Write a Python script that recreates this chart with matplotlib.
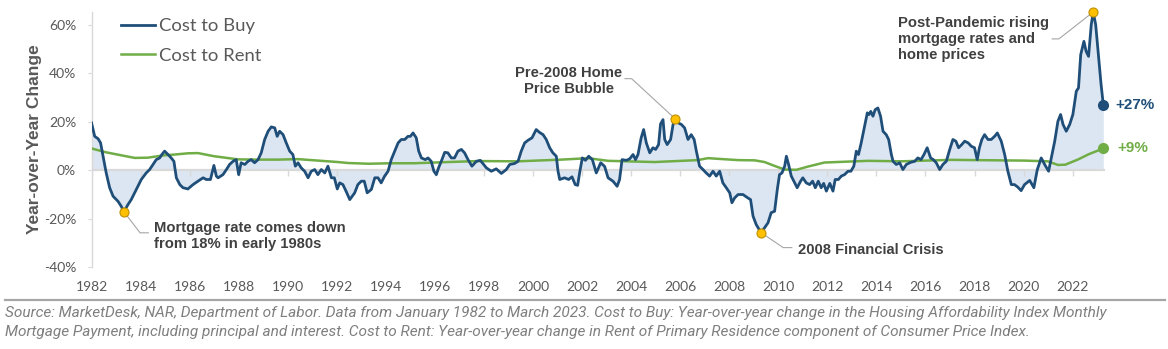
import numpy as np
import matplotlib
matplotlib.use("Agg")
import matplotlib.pyplot as plt

# ---------------- data ----------------
buy_years = [
    1982.00, 1982.13, 1982.27, 1982.37, 1982.47, 1982.60, 1982.74, 1982.88, 1983.08, 1983.21,
    1983.32, 1983.49, 1983.62, 1983.76, 1983.90, 1984.03, 1984.23, 1984.37, 1984.51, 1984.64,
    1984.78, 1984.87, 1984.98, 1985.12, 1985.25, 1985.36, 1985.46, 1985.60, 1985.73, 1985.93,
    1986.14, 1986.34, 1986.55, 1986.68, 1986.85, 1986.99, 1987.09, 1987.16, 1987.36, 1987.50,
    1987.63, 1987.77, 1987.90, 1988.00, 1988.10, 1988.25, 1988.38, 1988.51, 1988.65, 1988.79,
    1988.92, 1989.06, 1989.20, 1989.33, 1989.47, 1989.57, 1989.67, 1989.81, 1989.94, 1990.08,
    1990.21, 1990.31, 1990.42, 1990.55, 1990.69, 1990.83, 1990.96, 1991.10, 1991.23, 1991.37,
    1991.51, 1991.64, 1991.78, 1991.90, 1992.02, 1992.12, 1992.25, 1992.39, 1992.53, 1992.73,
    1992.86, 1993.00, 1993.12, 1993.24, 1993.41, 1993.55, 1993.68, 1993.81, 1993.95, 1994.09,
    1994.22, 1994.36, 1994.50, 1994.63, 1994.77, 1994.90, 1995.00, 1995.11, 1995.24, 1995.34,
    1995.45, 1995.61, 1995.72, 1995.85, 1995.96, 1996.06, 1996.15, 1996.26, 1996.40, 1996.53,
    1996.67, 1996.80, 1996.94, 1997.08, 1997.21, 1997.35, 1997.51, 1997.69, 1997.85, 1998.10,
    1998.30, 1998.50, 1998.71, 1998.91, 1999.05, 1999.25, 1999.39, 1999.52, 1999.66, 1999.80,
    1999.96, 2000.13, 2000.27, 2000.41, 2000.54, 2000.68, 2000.81, 2000.95, 2001.02, 2001.09,
    2001.29, 2001.45, 2001.59, 2001.72, 2001.82, 2001.90, 2002.01, 2002.14, 2002.27, 2002.42,
    2002.58, 2002.76, 2002.92, 2003.06, 2003.26, 2003.43, 2003.53, 2003.63, 2003.80, 2003.94,
    2004.08, 2004.18, 2004.28, 2004.41, 2004.51, 2004.62, 2004.76, 2004.89, 2005.00, 2005.12,
    2005.20, 2005.30, 2005.37, 2005.47, 2005.61, 2005.71, 2005.80, 2005.91, 2006.05, 2006.18,
    2006.32, 2006.45, 2006.57, 2006.66, 2006.79, 2006.93, 2007.06, 2007.20, 2007.34, 2007.47,
    2007.61, 2007.74, 2007.88, 2008.02, 2008.11, 2008.22, 2008.36, 2008.56, 2008.76, 2008.87,
    2008.97, 2009.10, 2009.20, 2009.31, 2009.44, 2009.58, 2009.71, 2009.85, 2009.96, 2010.05,
    2010.15, 2010.26, 2010.33, 2010.42, 2010.53, 2010.67, 2010.77, 2010.91, 2011.00, 2011.14,
    2011.28, 2011.40, 2011.51, 2011.63, 2011.75, 2011.85, 2011.96, 2012.10, 2012.23, 2012.32,
    2012.45, 2012.57, 2012.70, 2012.84, 2012.96, 2013.08, 2013.18, 2013.27, 2013.38, 2013.52,
    2013.63, 2013.70, 2013.77, 2013.86, 2013.95, 2014.06, 2014.17, 2014.27, 2014.40, 2014.50,
    2014.61, 2014.68, 2014.81, 2014.95, 2015.08, 2015.22, 2015.40, 2015.56, 2015.69, 2015.82,
    2015.94, 2016.07, 2016.21, 2016.32, 2016.44, 2016.58, 2016.71, 2016.85, 2016.99, 2017.12,
    2017.24, 2017.35, 2017.48, 2017.60, 2017.74, 2017.87, 2018.00, 2018.11, 2018.20, 2018.30,
    2018.41, 2018.55, 2018.68, 2018.82, 2018.93, 2019.09, 2019.23, 2019.36, 2019.50, 2019.63,
    2019.77, 2019.90, 2020.04, 2020.25, 2020.42, 2020.56, 2020.72, 2020.86, 2021.02, 2021.13,
    2021.27, 2021.40, 2021.51, 2021.61, 2021.74, 2021.88, 2022.01, 2022.15, 2022.24, 2022.33,
    2022.46, 2022.55, 2022.65, 2022.76, 2022.84, 2022.94, 2023.06, 2023.16, 2023.25,
]
buy_values = [
    19.5, 13.9, 12.9, 11.2, 5.7, -1.2, -7.3, -10.8, -12.9, -14.9,
    -17.2, -14.2, -12.2, -9.4, -6.7, -3.9, -1.2, 0.2, 2.3, 4.3,
    5.0, 6.4, 7.8, 6.4, 5.0, 3.6, -3.2, -6.0, -7.3, -7.8,
    -6.0, -4.6, -3.2, -3.9, -3.9, 1.9, -2.5, -3.2, -1.9, 0.2,
    2.3, 3.6, 4.3, -1.9, 3.0, 2.3, 3.6, 4.3, 3.0, 4.3,
    7.1, 12.6, 16.0, 17.8, 17.4, 13.9, 16.0, 14.6, 11.2, 7.8,
    6.4, 1.6, 3.0, 0.9, -0.5, -3.2, -0.5, 0.2, -1.9, 0.2,
    -1.2, 1.6, -3.2, -3.2, -7.8, -5.3, -6.0, -9.0, -12.2, -9.4,
    -6.0, -4.6, -4.6, -9.4, -8.0, -3.2, -3.2, -5.3, -2.5, -0.5,
    4.3, 7.8, 11.2, 12.6, 12.6, 13.9, 13.9, 15.3, 13.3, 7.8,
    5.0, 4.3, 5.0, 3.6, -0.5, -1.9, 0.9, 3.6, 7.3, 7.1,
    5.0, 5.0, 7.8, 8.5, 7.1, 4.3, 1.6, 3.6, 4.0, 0.9,
    -0.5, 0.5, -1.4, 0.2, 2.3, 2.7, 3.6, 7.8, 11.2, 12.3,
    13.3, 16.7, 15.5, 14.6, 12.6, 9.2, 7.1, 5.7, -0.5, -3.9,
    -3.2, -3.9, -2.8, -6.0, -6.3, -1.2, 5.0, 4.0, 5.7, 4.3,
    -1.2, 3.0, 1.5, -3.2, -4.6, -6.7, -3.9, 4.3, 4.0, 4.6,
    6.4, 4.3, 6.4, 13.3, 16.7, 11.2, 7.1, 9.2, 8.5, 10.5,
    19.0, 20.8, 12.6, 10.5, 12.6, 18.8, 21.1, 19.5, 18.8, 17.4,
    12.6, 14.6, 12.6, 7.8, 1.6, 0.2, -1.2, -2.5, -0.5, -2.5,
    -0.5, -5.3, -7.3, -9.4, -13.5, -11.5, -10.1, -10.1, -11.5, -12.2,
    -19.0, -22.5, -24.2, -25.9, -23.8, -21.8, -17.6, -17.0, -8.0, -1.9,
    -1.2, 1.6, 5.7, 2.3, -2.5, -5.3, -7.3, -4.6, -3.2, -5.3,
    -6.0, -4.6, -7.3, -4.6, -7.3, -5.5, -8.7, -5.5, -8.7, -3.9,
    -3.9, -2.5, -1.9, -0.5, -0.5, 1.6, 7.8, 6.4, 11.2, 18.1,
    23.6, 22.9, 24.2, 22.2, 24.9, 25.6, 22.2, 16.0, 14.6, 12.6,
    6.4, 3.6, 2.3, 3.0, 0.2, 2.3, 3.2, 3.6, 5.0, 4.3,
    6.4, 9.2, 5.0, 4.3, 3.0, 0.2, 2.3, 3.6, 8.5, 12.6,
    11.9, 9.2, 10.5, 11.9, 11.2, 9.8, 9.2, 4.3, 9.2, 12.6,
    14.6, 12.6, 12.6, 13.9, 15.3, 11.9, 6.4, -0.5, -6.0, -6.0,
    -7.1, -8.5, -6.0, -4.3, -7.3, 0.2, 5.0, 2.3, -0.5, 5.0,
    11.9, 20.1, 22.9, 18.8, 16.0, 18.8, 22.9, 32.5, 33.9, 47.6,
    53.1, 49.0, 46.9, 60.0, 65.2, 60.0, 46.3, 35.3, 27.0,
]

rent_years = [1982.0, 1982.6, 1983.2, 1983.76, 1984.3, 1984.9, 1985.4, 1985.93, 1986.34, 1987.0,
              1987.97, 1988.79, 1989.6, 1990.42, 1991.23, 1992.05, 1992.46, 1993.3, 1994.22,
              1995.17, 1996.53, 1997.76, 1999.39, 2001.16, 2002.25, 2003.06, 2004.96, 2006.72,
              2007.13, 2008.36, 2009.04, 2009.44, 2009.85, 2010.26, 2010.74, 2011.2, 2011.88,
              2013.65, 2015.02, 2017.06, 2018.97, 2020.0, 2020.99, 2021.4, 2021.7, 2022.23,
              2022.65, 2023.25]
rent_values = [8.9, 7.3, 6.1, 5.0, 5.1, 6.0, 6.4, 6.9, 7.0, 5.7,
               4.4, 4.3, 4.3, 4.5, 3.9, 3.3, 2.9, 2.6, 2.8,
               2.8, 3.3, 3.7, 3.6, 4.3, 4.9, 3.8, 3.3, 4.1,
               4.9, 4.1, 4.0, 3.3, 1.7, 0.2, 0.1, 1.4, 3.1,
               3.8, 3.6, 4.2, 4.0, 3.9, 3.6, 2.1, 2.2, 4.4,
               6.5, 8.9]

xtick_years = list(range(1982, 2023, 2))
ytick_values = [-40, -20, 0, 20, 40, 60]

BUY_COLOR = "#1f4e79"
RENT_COLOR = "#70ad47"
FILL_COLOR = "#dce6f2"
GRID_COLOR = "#d9d9d9"
TEXT_GRAY = "#595959"
NOTE_DARK = "#404040"
DOT_GOLD = "#ffc000"

buy_years = np.array(buy_years)
buy_values = np.array(buy_values)

fig = plt.figure(figsize=(11.68, 3.49), dpi=100)
W, H = 1168, 349
ax = fig.add_axes([91.5 / W, (H - 267) / H, (1105 - 91.5) / W, 255 / H])

ax.set_xlim(1982.0, 2023.32)
ax.set_ylim(-40, 65.2)

ax.fill_between(buy_years, buy_values, 0, color=FILL_COLOR, lw=0, zorder=1)
ax.axhline(0, color=GRID_COLOR, lw=1.6, zorder=1.5)
ax.plot(xtick_years, np.zeros(len(xtick_years)), ls="none", marker=3,
        ms=4, mew=1.0, color=GRID_COLOR, zorder=1.5)

ax.plot(rent_years, rent_values, color=RENT_COLOR, lw=1.8, zorder=3,
        label="Cost to Rent", solid_joinstyle="round")
ax.plot(buy_years, buy_values, color=BUY_COLOR, lw=2.0, zorder=4,
        label="Cost to Buy", solid_joinstyle="round")

# spines / ticks
for s in ["top", "right", "bottom"]:
    ax.spines[s].set_visible(False)
ax.spines["left"].set_color(GRID_COLOR)
ax.spines["left"].set_linewidth(1.0)
ax.set_yticks(ytick_values)
ax.set_yticklabels([f"{v}%" for v in ytick_values])
ax.set_xticks(xtick_years)
ax.set_xticklabels([str(y) for y in xtick_years])
ax.tick_params(axis="y", length=3, color=GRID_COLOR, labelcolor=TEXT_GRAY,
               labelsize=10, pad=8)
ax.tick_params(axis="x", length=0, labelcolor=TEXT_GRAY, labelsize=10, pad=10)
for lab in ax.get_xticklabels() + ax.get_yticklabels():
    lab.set_fontfamily("Lato")

ax.set_ylabel("Year-over-Year Change", fontsize=12.5, fontweight="bold",
              color=TEXT_GRAY, family="Liberation Sans", labelpad=1)

# legend (Cost to Buy first)
h, l = ax.get_legend_handles_labels()
leg = ax.legend(h[::-1], l[::-1], loc="upper left",
                bbox_to_anchor=(0.0288, 0.975), frameon=False, borderpad=0,
                borderaxespad=0, handlelength=1.85, handletextpad=0.25,
                labelspacing=0.72, prop={"family": "Lato", "size": 13.3})
for t in leg.get_texts():
    t.set_color(TEXT_GRAY)

# annotation dots
dot_kw = dict(ls="none", marker="o", ms=6.5, mfc=DOT_GOLD, mec="#bf9000",
              mew=0.8, zorder=6, clip_on=False)
i_83 = int(np.argmin(np.where(buy_years < 1986, buy_values, np.inf)))
i_05 = int(np.argmax(np.where((buy_years > 2004) & (buy_years < 2008), buy_values, -np.inf)))
i_09 = int(np.argmin(buy_values))
i_22 = int(np.argmax(buy_values))
for i in (i_83, i_05, i_09, i_22):
    ax.plot(buy_years[i], buy_values[i], **dot_kw)

lead_kw = dict(color="#a6a6a6", lw=0.8, zorder=5)
ann_kw = dict(fontsize=10.6, fontweight="bold", color=NOTE_DARK,
              family="Liberation Sans", linespacing=1.2)

# 1983 trough
ax.plot([buy_years[i_83], 1983.98, 1984.32], [buy_values[i_83], -25.9, -25.9], **lead_kw)
ax.text(1984.55, -27.2, "Mortgage rate comes down\nfrom 18% in early 1980s",
        ha="left", va="center", **ann_kw)
# 2005 bubble
ax.plot([buy_years[i_05], 2004.02, 2003.75], [buy_values[i_05], 37.7, 37.7], **lead_kw)
ax.text(2001.47, 36.6, "Pre-2008 Home\nPrice Bubble", ha="center", va="center", **ann_kw)
# 2009 crisis
ax.plot([buy_years[i_09], 2010.2, 2010.55], [buy_values[i_09], -32.0, -32.0], **lead_kw)
ax.text(2010.81, -32.8, "2008 Financial Crisis", ha="left", va="center", **ann_kw)
# 2022 peak
ax.plot([buy_years[i_22], 2021.44, 2021.17], [buy_values[i_22], 54.1, 54.1], **lead_kw)
ax.text(2014.87, 54.1, "Post-Pandemic rising\nmortgage rates and\nhome prices",
        ha="left", va="center", **ann_kw)

# end points
ax.plot(buy_years[-1], buy_values[-1], ls="none", marker="o", ms=7,
        color=BUY_COLOR, zorder=6, clip_on=False)
ax.plot(rent_years[-1], rent_values[-1], ls="none", marker="o", ms=7,
        color=RENT_COLOR, zorder=6, clip_on=False)
ax.annotate(f"+{buy_values[-1]:.0f}%", (buy_years[-1], buy_values[-1]),
            xytext=(9, 0), textcoords="offset points", ha="left", va="center",
            fontsize=11, fontweight="bold", color=BUY_COLOR,
            family="Liberation Sans", annotation_clip=False)
ax.annotate(f"+{rent_values[-1]:.0f}%", (rent_years[-1], rent_values[-1]),
            xytext=(10, 0), textcoords="offset points", ha="left", va="center",
            fontsize=11, fontweight="bold", color=RENT_COLOR,
            family="Liberation Sans", annotation_clip=False)

# separator and source note
fig.add_artist(plt.Line2D([5 / W, 1165 / W], [(H - 300) / H, (H - 300) / H],
                          color="#a6a6a6", lw=1.6))
note = ("Source: MarketDesk, NAR, Department of Labor. Data from January 1982 to March 2023. "
        "Cost to Buy: Year-over-year change in the Housing Affordability Index Monthly\n"
        "Mortgage Payment, including principal and interest. Cost to Rent: Year-over-year "
        "change in Rent of Primary Residence component of Consumer Price Index.")
fig.text(5 / W, (H - 306) / H, note, ha="left", va="top", fontsize=11.1,
         style="italic", color="#7f7f7f", family="Roboto",
         linespacing=1.45)

fig.savefig("out.png", dpi=100)
